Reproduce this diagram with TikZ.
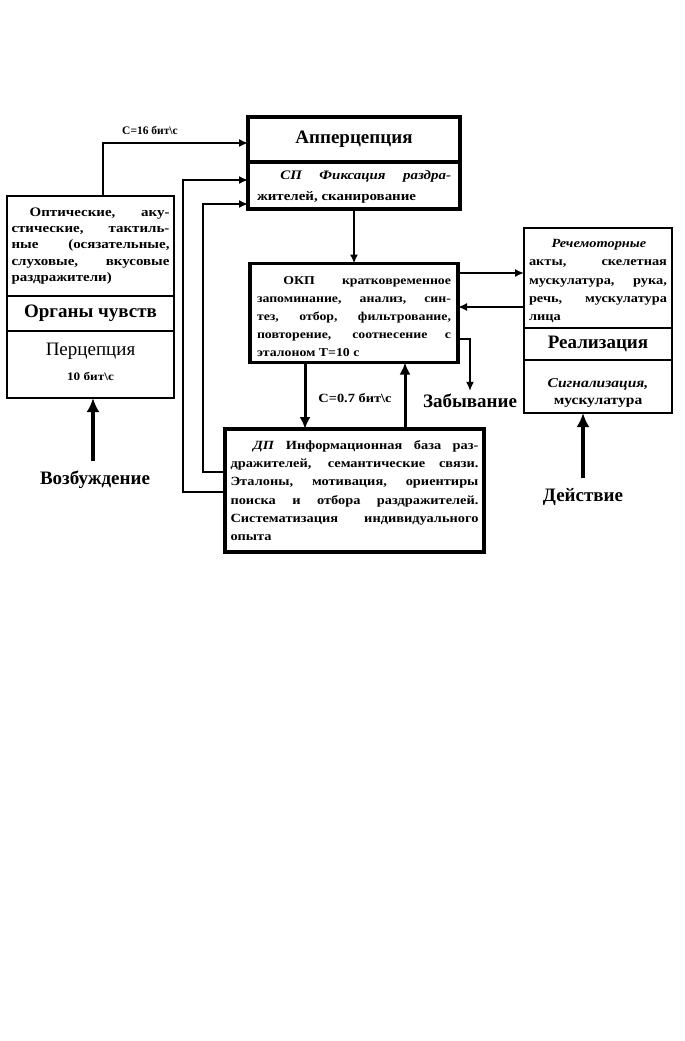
\documentclass[tikz,border=0pt]{standalone}
\usepackage{fontspec}
\setmainfont{Liberation Serif}
\newfontfamily\widefont[FakeStretch=1.15]{Liberation Serif}
\usetikzlibrary{arrows.meta,calc}
\begin{document}
\begin{tikzpicture}[x=1pt,y=-1pt,
  thinbox/.style={draw,line width=1.7pt,inner sep=0pt,outer sep=0pt},
  thickbox/.style={draw,line width=3.6pt,inner sep=0pt,outer sep=0pt},
  widebody/.style 2 args={font=\widefont\fontsize{#1}{#2}\selectfont\bfseries,inner sep=0pt,align=justify},
  conn/.style={line width=1.6pt,-{Latex[length=9pt,width=8pt]}},
  bigarrow/.style={line width=4pt,-{Latex[length=14pt,width=13pt]}},
  midarrow/.style={line width=3pt,-{Latex[length=12pt,width=11pt]}},
  title/.style={font=\fontsize{19}{21}\selectfont\bfseries,inner sep=0pt},
  label/.style={font=\fontsize{19}{21}\selectfont\bfseries,inner sep=0pt}
]
\useasboundingbox (0,0) rectangle (685,1041);

% left box
\node[thinbox,minimum width=167pt,minimum height=100pt] (lt) at (90.5,246) {};
\node[widebody={13}{16.3},text width=158pt] (ltt) at (lt.center) {\rightskip=0pt\hspace*{1.4em}Оптические, аку-\linebreak стические, тактиль-\linebreak ные (осязательные,\linebreak слуховые, вкусовые\linebreak раздражители)};
\node[thinbox,minimum width=167pt,minimum height=35pt,title] (lm) at (90.5,313.5) {Органы чувств};
\node[thinbox,minimum width=167pt,minimum height=67pt] (lb) at (90.5,364.5) {};
\node[font=\fontsize{19}{21}\selectfont,inner sep=0pt] (perc) at (90.5,351) {Перцепция};
\node[font=\widefont\fontsize{11.5}{13}\selectfont\bfseries,inner sep=0pt] (bit10) at (90.5,376) {10 бит\textbackslash с};

% apperception
\node[thickbox,minimum width=212pt,minimum height=45pt,title] (ap1) at (354,139.5) {Апперцепция};
\node[thickbox,minimum width=212pt,minimum height=47pt] (ap2) at (354,185.5) {};
\node[widebody={13}{21},text width=194pt] (ap2t) at (354,186.5) {\rightskip=0pt\hspace*{1.8em}\textit{СП Фиксация раздра-}\linebreak жителей, сканирование};

% OKP
\node[thickbox,minimum width=208pt,minimum height=99pt] (okp) at (354,313) {};
\node[widebody={12}{18},text width=194pt] (okpt) at (354,317) {\rightskip=0pt\hspace*{2.2em}ОКП кратковременное\linebreak запоминание, анализ, син-\linebreak тез, отбор, фильтрование,\linebreak повторение, соотнесение с\linebreak эталоном T=10 с};

% DP
\node[thickbox,minimum width=259pt,minimum height=123pt] (dp) at (354.5,490.5) {};
\node[widebody={12.5}{18.3},text width=248pt] (dpt) at (dp.center) {\rightskip=0pt\hspace*{1.8em}\textit{ДП} Информационная база раз-\linebreak дражителей, семантические связи.\linebreak Эталоны, мотивация, ориентиры\linebreak поиска и отбора раздражителей.\linebreak Систематизация индивидуального\linebreak опыта};

% right box
\node[thinbox,minimum width=148pt,minimum height=100pt] (r1) at (598,278) {};
\node[widebody={12.5}{18.3},text width=138pt] (r1t) at (598,281) {\rightskip=0pt\hspace*{1.8em}\textit{Речемоторные}\linebreak акты, скелетная\linebreak мускулатура, рука,\linebreak речь, мускулатура\linebreak лица};
\node[thinbox,minimum width=148pt,minimum height=32pt,title] (r2) at (598,344) {Реализация};
\node[thinbox,minimum width=148pt,minimum height=53pt] (r3) at (598,386.5) {};
\node[font=\widefont\fontsize{13.5}{16.5}\selectfont\bfseries,inner sep=0pt,align=center] (r3t) at (598,393) {\textit{Сигнализация,}\\мускулатура};

% labels
\node[font=\fontsize{11.5}{13}\selectfont\bfseries,inner sep=0pt] (c16) at (150,130) {C=16 бит\textbackslash с};
\node[font=\widefont\fontsize{12.5}{14}\selectfont\bfseries,inner sep=0pt] (c07) at (355,398) {C=0.7 бит\textbackslash с};
\node[label] (zab) at (470,401) {Забывание};
\node[label] (vozb) at (95,480) {Возбуждение};
\node[label] (deis) at (583,497) {Действие};

% connectors
\draw[conn] (lt.north -| 103,0) |- ([yshift=-3.5pt]ap1.west);
\coordinate (f1) at (183,180);
\coordinate (f2) at (203,204);
\draw[conn] (dp.west |- 0,492) -| (f1) -- (f1 -| ap2.west);
\draw[conn] (dp.west |- 0,472) -| (f2) -- (f2 -| ap2.west);
\draw[conn] (ap2.south) -- (okp.north);
\draw[conn] (okp.east |- 0,273) -- (r1.west |- 0,273);
\draw[conn] (r1.west |- 0,307) -- (okp.east |- 0,307);
\draw[conn] (okp.east |- 0,339) -| ([yshift=3pt]zab.north);
\draw[midarrow] (okp.south -| 305,0) -- (dp.north -| 305,0);
\draw[midarrow] (dp.north -| 405,0) -- (okp.south -| 405,0);
\draw[bigarrow] ([yshift=10pt]vozb.north -| 93,0) -- (lb.south -| 93,0);
\draw[bigarrow] ([yshift=10pt]deis.north) -- (r3.south -| deis.north);
\end{tikzpicture}
\end{document}
